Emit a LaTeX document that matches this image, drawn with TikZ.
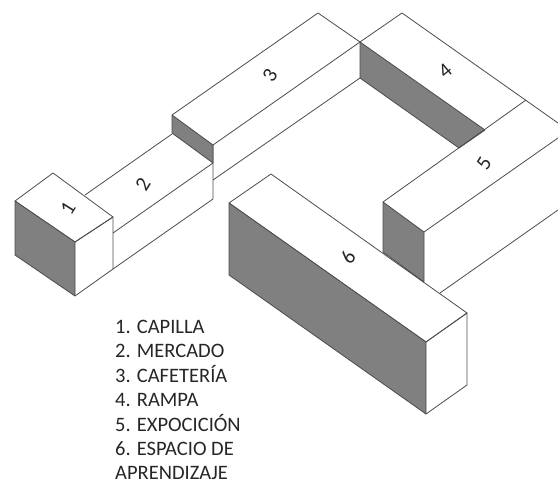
\documentclass[tikz,border=0pt]{standalone}
\usepackage{fontspec}
\setmainfont{Carlito}
\usepackage{xcolor}
\usepackage{tikz}
\definecolor{shade}{gray}{0.5}
\definecolor{edge}{gray}{0.3}

\begin{document}
\begin{tikzpicture}[
  x=1pt,y=-1pt,
  line join=round,
  edge/.style={draw=edge,line width=0.8pt},
  wall/.style={edge,fill=shade},
  num/.style={font=\fontsize{21}{21}\selectfont,text=black!85,inner sep=0pt},
  lst/.style={font=\fontsize{20.5}{24.4}\selectfont,text=black!85,align=left,inner sep=0pt}]
\useasboundingbox (0,0) rectangle (558,484);
% bloque 1
\draw[edge] (15,201)--(53,173)--(113,217)--(75,242)--cycle;
\draw[wall] (15,201)--(75,242)--(75,296)--(15,255)--cycle;
\draw[edge] (75,242)--(113,217)--(113,269)--(75,296);
% bloque 2
\draw[edge] (85,195)--(172,134);
\draw[edge] (113,233)--(213,163);
\draw[edge] (113,269)--(213,199)--(213,145);
% bloque 3
\draw[edge] (172,115)--(318,13)--(360,42)--(213,145);
\draw[wall] (172,115)--(213,145)--(213,163)--(172,133)--cycle;
\draw[edge] (213,180)--(360,78);
% bloque 4
\draw[edge] (360,42)--(402,13)--(558,123);
\draw[wall] (360,42)--(485,130)--(459,148)--(360,78)--cycle;
% bloque 5
\draw[edge] (526,100)--(383,202);
\draw[wall] (383,202)--(424,232)--(424,282)--(383,252)--cycle;
\draw[edge] (424,232)--(558,138);
\draw[edge] (440,293)--(558,210);
% bloque 6
\draw[edge] (229,203)--(271,174)--(467,313)--(426,342)--cycle;
\draw[wall] (229,203)--(426,342)--(426,414)--(229,275)--cycle;
\draw[edge] (426,342)--(467,313)--(467,385)--(426,414);
% numeros
\node[num,rotate=58] (n1) at (68,208) {1};
\node[num,rotate=58] (n2) at (143,184) {2};
\node[num,rotate=58] (n3) at (270,75) {3};
\node[num,rotate=40] (n4) at (445,71) {4};
\node[num,rotate=58] (n5) at (484,163) {5};
\node[num,rotate=58] (n6) at (348,257) {6};
% lista
\node[lst,anchor=north west] (lista) at (115,320) {1. CAPILLA\\2. MERCADO\\3. CAFETERÍA\\4. RAMPA\\5. EXPOCICIÓN\\6. ESPACIO DE\\APRENDIZAJE};
\end{tikzpicture}
\end{document}
